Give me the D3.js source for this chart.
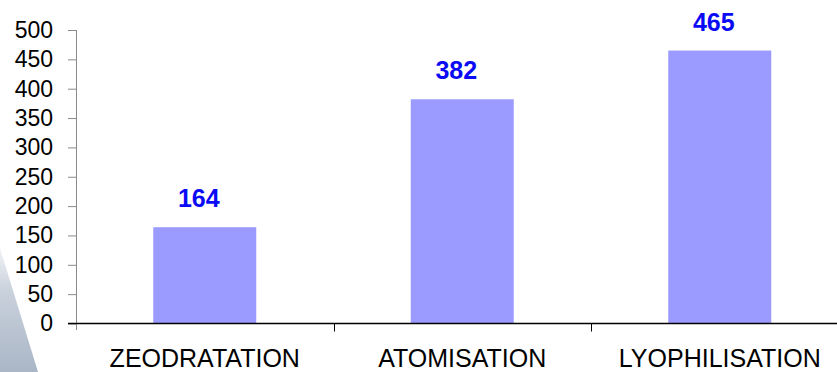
<!DOCTYPE html>
<html>
<head>
<meta charset="utf-8">
<script src="https://cdn.jsdelivr.net/npm/d3@7"></script>
<style>
  body { margin: 0; background: #fff; }
  svg { display: block; font-family: 'Liberation Sans', Arial, sans-serif; }
</style>
</head>
<body>
<div id="chart"></div>
<script>
var categories = ['ZEODRATATION', 'ATOMISATION', 'LYOPHILISATION'];
var values = [164, 382, 465];
var yTicks = [0, 50, 100, 150, 200, 250, 300, 350, 400, 450, 500];

var width = 837,
  height = 372;

var svg = d3
  .select('#chart')
  .append('svg')
  .attr('width', width)
  .attr('height', height);

// slide decoration in the lower left corner
var grad = svg
  .append('defs')
  .append('linearGradient')
  .attr('id', 'deco')
  .attr('x1', 0)
  .attr('y1', 0)
  .attr('x2', 0)
  .attr('y2', 1);
grad.append('stop').attr('offset', '0%').attr('stop-color', '#f2f4f7');
grad.append('stop').attr('offset', '35%').attr('stop-color', '#c9d1dc');
grad.append('stop').attr('offset', '100%').attr('stop-color', '#aab6c6');

svg
  .append('path')
  .attr('d', 'M0,248 L38,372 L0,372 Z')
  .attr('fill', 'url(#deco)');

var x = d3
  .scaleBand()
  .domain(categories)
  .range([76, 848.5])
  .paddingInner(0.6)
  .paddingOuter(0.3);

var y = d3.scaleLinear().domain([0, 500]).range([323.5, 30]);

// y axis (grey)
var yAxis = svg
  .append('g')
  .attr('transform', 'translate(76,0)')
  .call(d3.axisLeft(y).tickValues(yTicks).tickSize(8).tickPadding(15));
yAxis.select('.domain').attr('stroke', '#8a8a8a').attr('d', 'M0.5,30V330');
yAxis.selectAll('.tick line').attr('stroke', '#8a8a8a');
yAxis
  .selectAll('.tick text')
  .attr('fill', '#000')
  .style('font-size', '23px')
  .attr('font-family', null);

// bars
svg
  .append('g')
  .selectAll('rect')
  .data(values)
  .enter()
  .append('rect')
  .attr('x', (d, i) => x(categories[i]))
  .attr('y', (d) => y(d))
  .attr('width', x.bandwidth())
  .attr('height', (d) => y(0) - y(d))
  .attr('fill', '#9b9bff');

// x axis (black), category ticks between bands
var xAxis = svg.append('g');
xAxis
  .append('line')
  .attr('x1', 68)
  .attr('x2', width)
  .attr('y1', y(0))
  .attr('y2', y(0))
  .attr('stroke', '#000')
  .attr('stroke-width', 1.5);
xAxis
  .selectAll('line.sep')
  .data(categories.slice(1))
  .enter()
  .append('line')
  .attr('class', 'sep')
  .attr('x1', (d) => Math.round(x(d) - x.step() * x.paddingOuter()) + 0.5)
  .attr('x2', (d) => Math.round(x(d) - x.step() * x.paddingOuter()) + 0.5)
  .attr('y1', y(0))
  .attr('y2', y(0) + 8)
  .attr('stroke', '#000');

xAxis
  .selectAll('text')
  .data(categories)
  .enter()
  .append('text')
  .attr('x', (d) => x(d) + x.bandwidth() / 2)
  .attr('y', 367)
  .attr('text-anchor', 'middle')
  .style('font-size', '25px')
  .text((d) => d);

// value labels
svg
  .append('g')
  .selectAll('text')
  .data(values)
  .enter()
  .append('text')
  .attr('x', (d, i) => x(categories[i]) + x.bandwidth() / 2 - 6)
  .attr('y', (d) => y(d) - 20)
  .attr('text-anchor', 'middle')
  .attr('fill', '#0a0af5')
  .style('font-size', '25px')
  .style('font-weight', 'bold')
  .text((d) => d);
</script>
</body>
</html>
